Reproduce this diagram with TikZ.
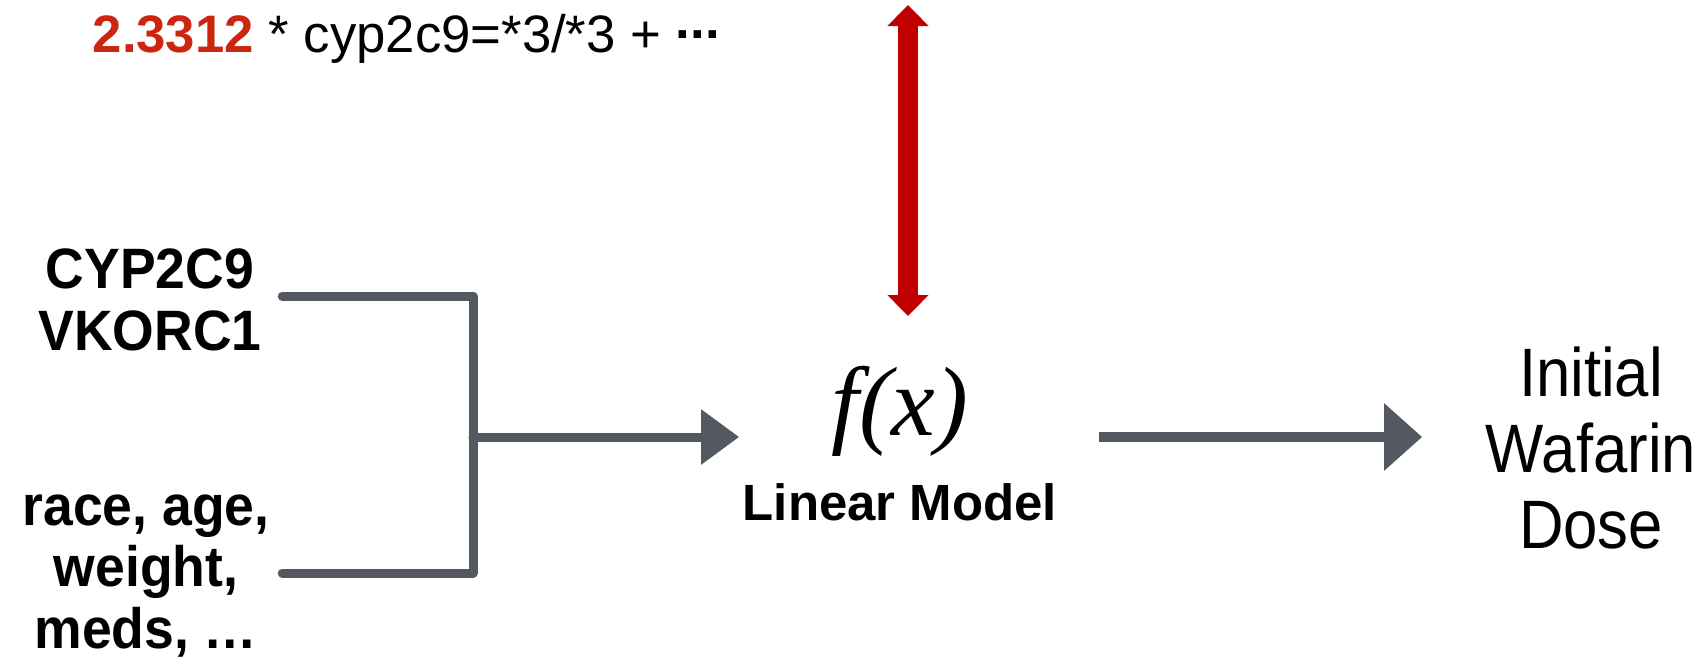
\documentclass[tikz,border=0pt]{standalone}
\usepackage{fontspec}
\setmainfont{Liberation Sans}
\newfontfamily\narrowsans[FakeStretch=0.9]{Liberation Sans}
\newfontfamily\tallsans[FakeStretch=0.94]{Liberation Sans}
\newfontfamily\fxserif{Liberation Serif}
\usetikzlibrary{
  arrows.meta,
  positioning,
  calc
}
\definecolor{ArrowGray}{RGB}{84,88,96}
\definecolor{CoefRed}{RGB}{204,38,16}
\definecolor{LinkRed}{RGB}{192,0,0}
\tikzset{
  inputnode/.style={inner sep=0pt,align=center,font=\fontsize{16.2}{17.5}\selectfont\tallsans\bfseries},
  fxnode/.style={inner sep=0pt,font=\fontsize{28}{30}\selectfont\fxserif\itshape},
  modelnode/.style={inner sep=0pt,font=\fontsize{14.5}{16}\selectfont\bfseries},
  dosenode/.style={inner sep=0pt,align=center,font=\fontsize{19.5}{21.6}\selectfont\narrowsans},
  coefnode/.style={inner sep=0pt,font=\fontsize{15}{17}\selectfont},
  bracket/.style={line width=0.9mm,draw=ArrowGray,line cap=round,line join=round},
  feedarrow/.style={bracket,-{Triangle[width=5.3mm,length=3.8mm]}},
  outarrow/.style={line width=1mm,draw=ArrowGray,-{Triangle[width=6.5mm,length=3.8mm]}},
  linkarrow/.style={line width=2mm,draw=LinkRed,{Triangle[width=4mm,length=2.1mm]}-{Triangle[width=4mm,length=2.1mm]}}
}

\begin{document}
\begin{tikzpicture}[x=0.1mm,y=-0.1mm]
\useasboundingbox (0,0) rectangle (1706,663);
\node[coefnode,anchor=base west] (coef) at (92,52) {{\bfseries\color{CoefRed}2.3312} * cyp2c9=*3/*3 + {\bfseries\raisebox{0.25em}{...}}};
\node[inputnode] (gene) at (150,300) {CYP2C9\\VKORC1};
\node[inputnode] (clin) at (146,576) {race, age,\\weight,\\meds, …};
\coordinate (jn) at (473,437);
\node[modelnode,anchor=base] (lm) at (900,520) {Linear Model};
\node[fxnode,anchor=base] (model) at ([yshift=8.5mm]lm.base) {f(x)};
\node[dosenode] (dose) at (1591,448) {Initial\\Wafarin\\Dose};
\coordinate (ltop) at (908,5);
\coordinate (lbot) at (908,316);

\draw[bracket] ($(gene.east)+(20,-4)$) -| (jn) |- ($(clin.east -| gene.east)+(20,-3)$);
\draw[feedarrow] (jn) -- ($(jn -| lm.west)+(-3,0)$);
\draw[outarrow] ($(jn -| lm.east)+(41,0)$) -- ($(jn -| dose.west)+(-63,0)$);
\draw[linkarrow] (lbot) -- (ltop);
\end{tikzpicture}
\end{document}
